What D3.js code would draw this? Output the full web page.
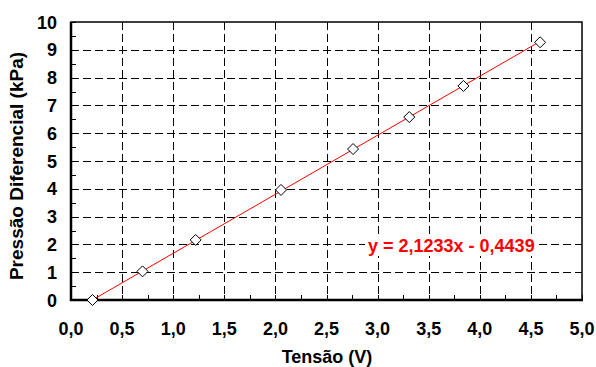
<!DOCTYPE html>
<html><head><meta charset="utf-8">
<script src="https://cdn.jsdelivr.net/npm/d3@7"></script>
<style>body{margin:0;background:#fff}svg{display:block}text{font-family:"Liberation Sans",Arial,sans-serif;font-weight:bold}</style>
</head><body>
<script>
const tensao = [0.21, 0.70, 1.22, 2.055, 2.76, 3.31, 3.84, 4.59];
const pressao = [0.00, 1.03, 2.16, 3.96, 5.43, 6.58, 7.70, 9.27];
const fitSlope = 2.1233, fitIntercept = -0.4439;
const equationLabel = "y = 2,1233x - 0,4439";
const xTicks = [0,0.5,1,1.5,2,2.5,3,3.5,4,4.5,5];
const yTicks = [0,1,2,3,4,5,6,7,8,9,10];
const xTitle = "Tensão (V)", yTitle = "Pressão Diferencial (kPa)";

const W=596,H=367;
const svg=d3.select("body").append("svg").attr("width",W).attr("height",H);
const x=d3.scaleLinear().domain([0,5]).range([71,582]);
const y=d3.scaleLinear().domain([0,10]).range([300,22]);
const fmt=d=>d3.format(".1f")(d).replace(".",",");

// grid
svg.append("g").selectAll("line").data(xTicks.filter(d=>d>0&&d<5)).join("line")
  .attr("x1",d=>Math.round(x(d))+0.5).attr("x2",d=>Math.round(x(d))+0.5)
  .attr("y1",y(10)).attr("y2",y(0)).attr("stroke","#000").attr("stroke-dasharray","8,4");
svg.append("g").selectAll("line").data(yTicks.filter(d=>d>0&&d<10)).join("line")
  .attr("y1",d=>Math.round(y(d))+0.5).attr("y2",d=>Math.round(y(d))+0.5)
  .attr("x1",x(0)).attr("x2",x(5)).attr("stroke","#000").attr("stroke-dasharray","8,4");

// minor ticks (inside)
const xMinor=d3.range(0,5.01,0.25), yMinor=d3.range(0,10.01,0.5);
svg.append("g").selectAll("line").data(xMinor).join("line")
  .attr("x1",d=>Math.round(x(d))+0.5).attr("x2",d=>Math.round(x(d))+0.5)
  .attr("y1",y(0)).attr("y2",y(0)-5).attr("stroke","#000");
svg.append("g").selectAll("line").data(yMinor).join("line")
  .attr("y1",d=>Math.round(y(d))+0.5).attr("y2",d=>Math.round(y(d))+0.5)
  .attr("x1",x(0)).attr("x2",x(0)+5).attr("stroke","#000");

// frame
svg.append("rect").attr("x",x(0)).attr("y",y(10)).attr("width",x(5)-x(0)).attr("height",y(0)-y(10))
  .attr("fill","none").attr("stroke","#000").attr("stroke-width",1.5);
svg.append("line").attr("x1",x(0)).attr("x2",x(0)).attr("y1",y(10)).attr("y2",y(0)+1).attr("stroke","#000").attr("stroke-width",2.5);
svg.append("line").attr("x1",x(0)-1).attr("x2",x(5)+1).attr("y1",y(0)).attr("y2",y(0)).attr("stroke","#000").attr("stroke-width",2.5);

// tick labels
svg.append("g").selectAll("text").data(xTicks).join("text")
  .attr("x",d=>x(d)).attr("y",335).attr("text-anchor","middle").attr("font-size",18).text(fmt);
svg.append("g").selectAll("text").data(yTicks).join("text")
  .attr("x",57).attr("y",d=>y(d)+6.5).attr("text-anchor","end").attr("font-size",18).text(d=>d);

// titles
svg.append("text").attr("x",327).attr("y",363).attr("text-anchor","middle").attr("font-size",18).text(xTitle);
svg.append("text").attr("transform","translate(23,166) rotate(-90)").attr("text-anchor","middle").attr("font-size",19).text(yTitle);

// trend line
const x0=d3.min(tensao), x1=d3.max(tensao);
svg.append("line").attr("x1",x(x0)).attr("y1",y(fitSlope*x0+fitIntercept))
  .attr("x2",x(x1)).attr("y2",y(fitSlope*x1+fitIntercept)).attr("stroke","#ff0000").attr("stroke-width",1);

// markers
const pts=tensao.map((t,i)=>[t,pressao[i]]);
svg.append("g").selectAll("path").data(pts).join("path")
  .attr("d",d=>{const cx=x(d[0]),cy=y(d[1]),r=5.5;return `M${cx},${cy-r}L${cx+r},${cy}L${cx},${cy+r}L${cx-r},${cy}Z`;})
  .attr("fill","#fff").attr("stroke","#000").attr("stroke-width",1);

// equation with white background
const eq=svg.append("g");
const bg=eq.append("rect").attr("fill","#fff");
const et=eq.append("text").attr("x",368).attr("y",252).attr("font-size",18).attr("fill","#ff0000").text(equationLabel);
const bb=et.node().getBBox();
bg.attr("x",bb.x-3).attr("y",bb.y).attr("width",bb.width+6).attr("height",bb.height);
</script>
</body></html>
